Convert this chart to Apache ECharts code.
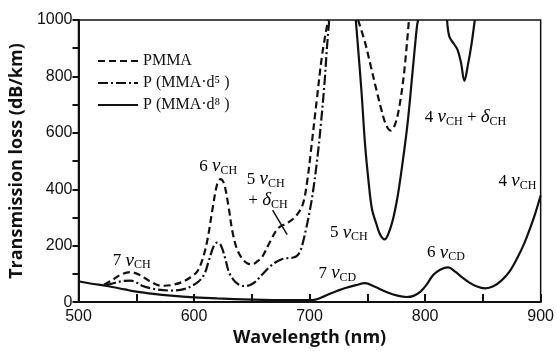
<!DOCTYPE html>
<html>
<head>
<meta charset="utf-8">
<script src="https://cdn.jsdelivr.net/npm/echarts@6/dist/echarts.min.js"></script>
<style>
  html, body { margin: 0; padding: 0; background: #fff; }
  #chart { width: 557px; height: 352px; }
</style>
</head>
<body>
<div id="chart"></div>
<script>
// wavelength (nm) / loss (dB/km); null = off the top of the scale
const wlPMMA = [522, 530, 537, 545, 553, 561, 572, 580, 589, 597, 603, 608, 612, 616, 620, 623, 626, 630, 633, 637,
  642, 646, 650, 655, 659, 666, 673, 681, 688, 694, 698, 701, 706, 711, 716, 729,
  742, 748, 753, 758, 762, 766, 770, 774, 778, 782, 786]
const lossPMMA = [62, 80, 98, 106, 96, 76, 58, 60, 70, 88, 110, 160, 230, 330, 418, 436, 420, 335, 255, 190,
  152, 138, 134, 145, 160, 216, 263, 281, 304, 345, 430, 530, 708, 880, 1000, null,
  1000, 920, 836, 750, 684, 630, 608, 630, 700, 820, 1000]

const wlD5a = [524, 533, 539, 545, 550, 555, 565, 580, 592, 603, 609, 613, 617, 620, 623, 627, 630, 634, 638, 643,
  648, 653, 659, 665, 671, 676, 681, 686, 690, 693, 697, 700, 703, 707, 710, 713, 715, 717]
const lossD5a = [60, 70, 75, 76, 70, 58, 47, 41, 47, 70, 100, 150, 198, 211, 203, 155, 108, 80, 64, 57,
  60, 72, 98, 123, 142, 152, 156, 158, 168, 193, 260, 320, 392, 520, 640, 780, 900, 1000]

const wlD5b = [740, 742, 745, 748, 751, 754, 758, 761, 765, 768, 772, 776, 779, 782, 785, 789, 793, 794, 806,
  819, 821, 825, 828, 831, 834, 837, 840, 843]
const lossD5b = [1000, 900, 743, 560, 430, 330, 275, 240, 222, 240, 290, 370, 450, 540, 640, 810, 980, 1000, null,
  1000, 941, 915, 895, 850, 784, 840, 910, 1000]

const wlD8 = [500, 510, 525, 540, 550, 565, 580, 600, 620, 650, 680, 700, 705, 710, 717, 724, 731, 740, 748, 756,
  767, 776, 784, 790, 796, 801, 807, 813, 820, 826, 832, 838, 844, 852, 859, 866, 873, 880, 886, 891, 895, 900]
const lossD8 = [74, 66, 57, 45, 37, 29, 23, 17, 13, 9, 7, 7, 9, 16, 29, 40, 50, 60, 67, 55,
  35, 23, 18, 22, 37, 60, 96, 115, 123, 108, 88, 70, 57, 49, 56, 76, 108, 158, 210, 263, 310, 378]

const seriesNames = ["PMMA", "P (MMA·d⁵ )", "P (MMA·d⁸ )"]

// peak labels, centred at [wavelength, loss]
const notes = [
  { text: "{n|7 }{g|ν}{s|CH}", at: [546, 147] },
  { text: "{n|6 }{g|ν}{s|CH}", at: [621, 481] },
  { text: "{n|5 }{g|ν}{s|CH}", at: [662, 435] },
  { text: "{n|+ }{g|δ}{s|CH}", at: [664, 361] },
  { text: "{n|5 }{g|ν}{s|CH}", at: [734, 246] },
  { text: "{n|7 }{g|ν}{s|CD}", at: [724, 102] },
  { text: "{n|6 }{g|ν}{s|CD}", at: [818, 175] },
  { text: "{n|4 }{g|ν}{s|CH}", at: [880, 428] },
  { text: "{n|4 }{g|ν}{s|CH}{n| + }{g|δ}{s|CH}", at: [835, 656] },
]
const pointer = [[668, 326], [680.6, 239]]

const pairs = (xs, ys) => xs.map((x, i) => [x, ys[i] == null ? "-" : ys[i]])

const chart = echarts.init(document.getElementById("chart"))

const lineBase = {
  type: "line",
  symbol: "none",
  smooth: 0.35,
  connectNulls: false,
  clip: true,
}

const option = {
  animation: false,
  backgroundColor: "#fff",
  grid: {
    left: 73, right: 10, top: 20, bottom: 47,
    show: true, borderColor: "#111", borderWidth: 1.5,
  },
  legend: {
    orient: "vertical",
    left: 92, top: 48,
    itemWidth: 40, itemHeight: 14, itemGap: 6,
    data: seriesNames,
    itemStyle: { opacity: 0, borderWidth: 0 },
    textStyle: { fontFamily: "Liberation Serif", fontSize: 16, color: "#111" },
  },
  xAxis: {
    type: "value",
    min: 500, max: 900, interval: 100,
    name: "Wavelength (nm)",
    nameLocation: "middle",
    nameGap: 22,
    nameTextStyle: { fontFamily: "Open Sans", fontWeight: "bold", fontSize: 18, color: "#111" },
    axisLine: { lineStyle: { color: "#111", width: 2 } },
    axisTick: { show: true, inside: true, length: 8, lineStyle: { color: "#111", width: 2 } },
    minorTick: { show: true, splitNumber: 2, length: 8, lineStyle: { color: "#111", width: 2 } },
    axisLabel: { fontFamily: "Liberation Sans", fontSize: 16, color: "#111", margin: 6 },
    splitLine: { show: false },
  },
  yAxis: {
    type: "value",
    min: 0, max: 1000, interval: 200,
    name: "Transmission loss (dB/km)",
    nameLocation: "middle",
    nameGap: 44,
    nameTextStyle: { fontFamily: "Open Sans", fontWeight: "bold", fontSize: 18, color: "#111" },
    axisLine: { show: true, lineStyle: { color: "#111", width: 2 } },
    axisTick: { show: true, length: 6, lineStyle: { color: "#111", width: 2 } },
    minorTick: { show: true, splitNumber: 2, length: 6, lineStyle: { color: "#111", width: 2 } },
    axisLabel: {
      fontFamily: "Liberation Sans", fontSize: 16, color: "#111", margin: 6,
      formatter: (v) => String(v),
    },
    splitLine: { show: false },
  },
  series: [
    {
      ...lineBase,
      name: seriesNames[0],
      data: pairs(wlPMMA, lossPMMA),
      lineStyle: { color: "#111", width: 2.2, type: [7, 4] },
      itemStyle: { color: "#111" },
    },
    {
      ...lineBase,
      name: seriesNames[1],
      data: pairs(wlD5a, lossD5a),
      lineStyle: { color: "#111", width: 2.2, type: [10, 3, 2, 3] },
      itemStyle: { color: "#111" },
      markLine: {
        silent: true,
        symbol: "none",
        label: { show: false },
        lineStyle: { color: "#111", width: 1.5, type: "solid" },
        data: [[{ coord: pointer[0] }, { coord: pointer[1] }]],
      },
    },
    {
      ...lineBase,
      name: seriesNames[1],
      data: pairs(wlD5b, lossD5b),
      lineStyle: { color: "#111", width: 2.2, type: "solid" },
      itemStyle: { color: "#111" },
    },
    {
      ...lineBase,
      name: seriesNames[2],
      data: pairs(wlD8, lossD8),
      lineStyle: { color: "#111", width: 2.2, type: "solid" },
      itemStyle: { color: "#111" },
    },
  ],
}

chart.setOption(option)

// peak annotations placed through the axes
const rich = {
  n: { fontFamily: "Liberation Serif", fontSize: 17, color: "#111" },
  g: { fontFamily: "Liberation Serif", fontStyle: "italic", fontSize: 19, color: "#111" },
  s: { fontFamily: "Liberation Serif", fontSize: 12, color: "#111", padding: [9, 0, 0, 0] },
}
chart.setOption({
  graphic: notes.map((n) => {
    const p = chart.convertToPixel({ gridIndex: 0 }, n.at)
    return {
      type: "text",
      x: p[0], y: p[1],
      silent: true,
      style: { text: n.text, rich, align: "center", verticalAlign: "middle" },
    }
  }),
})
</script>
</body>
</html>
